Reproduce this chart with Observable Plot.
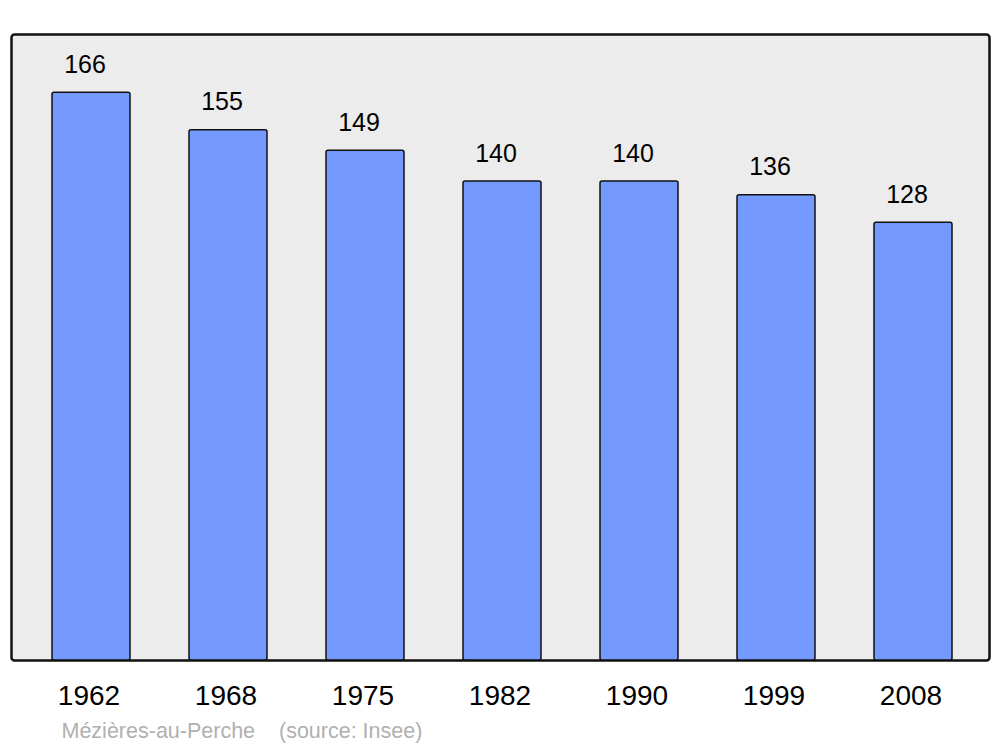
<!DOCTYPE html>
<html>
<head>
<meta charset="utf-8">
<script src="https://cdn.jsdelivr.net/npm/d3@7"></script>
<script src="https://cdn.jsdelivr.net/npm/@observablehq/plot@0.6"></script>
<style>
  html, body { margin: 0; padding: 0; background: #fff; }
  svg text { white-space: pre; }
</style>
</head>
<body>
<div id="chart"></div>
<script>
const years = ["1962", "1968", "1975", "1982", "1990", "1999", "2008"];
const population = [166, 155, 149, 140, 140, 136, 128];
const captionText = "Mézières-au-Perche    (source: Insee)";

const data = years.map((y, i) => ({year: y, value: population[i]}));

const chart = Plot.plot({
  width: 1000,
  height: 747,
  marginLeft: 11,
  marginRight: 11,
  marginTop: 34,
  marginBottom: 87,
  style: {fontFamily: "'Liberation Sans', Arial, sans-serif", background: "#fff"},
  x: {domain: years, insetLeft: 12, insetRight: 7, paddingInner: 0.43, paddingOuter: 0.215, label: null},
  y: {domain: [0, 183], axis: null},
  marks: [
    Plot.frame({fill: "#ececec", stroke: "#111", strokeWidth: 2.5, rx: 3}),
    Plot.barY(data, {x: "year", y: "value", fill: "#7499ff", stroke: "#111", strokeWidth: 1.5, rx: 2}),
    Plot.text(data, {x: "year", y: "value", text: d => String(d.value), dy: -28, dx: -6.5, fontSize: 25, fill: "#000"}),
    Plot.axisX({tickSize: 0, tickPadding: 25, fontSize: 28, color: "#000", dx: -2.5}),
    Plot.text([captionText], {frameAnchor: "bottom-left", dx: 50, dy: 77, text: d => d, fontSize: 21.5, fill: "#b0b0b0", textAnchor: "start"})
  ]
});
document.getElementById("chart").append(chart);
</script>
</body>
</html>
